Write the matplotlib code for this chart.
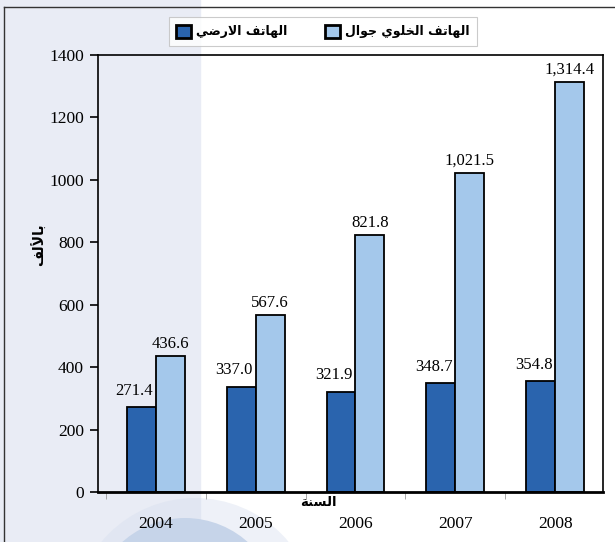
import numpy as np
import matplotlib
matplotlib.use("Agg")
import matplotlib.pyplot as plt
from matplotlib.patches import Rectangle, Circle
from matplotlib.lines import Line2D

plt.rcParams["font.family"] = ["Liberation Serif", "DejaVu Sans"]

# data
years = ["2004", "2005", "2006", "2007", "2008"]
landline = [271.4, 337.0, 321.9, 348.7, 354.8]
mobile = [436.6, 567.6, 821.8, 1021.5, 1314.4]
yticks = [0, 200, 400, 600, 800, 1000, 1200, 1400]

lbl_landline = "الهاتف الارضي"
lbl_mobile = "الهاتف الخلوي جوال"
lbl_y = "بالألف"
lbl_x = "السنة"

# matplotlib does no arabic shaping: choose the glyph forms by hand and reverse
FORMS = {
    'ا': ('\uFE8D', '\uFE8E'),
    'أ': ('\uFE83', '\uFE84'),
    'ب': ('\uFE8F', '\uFE90', '\uFE91', '\uFE92'),
    'ة': ('\uFE93', '\uFE94'),
    'ت': ('\uFE95', '\uFE96', '\uFE97', '\uFE98'),
    'ج': ('\uFE9D', '\uFE9E', '\uFE9F', '\uFEA0'),
    'خ': ('\uFEA5', '\uFEA6', '\uFEA7', '\uFEA8'),
    'ر': ('\uFEAD', '\uFEAE'),
    'س': ('\uFEB1', '\uFEB2', '\uFEB3', '\uFEB4'),
    'ض': ('\uFEBD', '\uFEBE', '\uFEBF', '\uFEC0'),
    'ف': ('\uFED1', '\uFED2', '\uFED3', '\uFED4'),
    'ل': ('\uFEDD', '\uFEDE', '\uFEDF', '\uFEE0'),
    'ن': ('\uFEE5', '\uFEE6', '\uFEE7', '\uFEE8'),
    'ه': ('\uFEE9', '\uFEEA', '\uFEEB', '\uFEEC'),
    'و': ('\uFEED', '\uFEEE'),
    'ي': ('\uFEF1', '\uFEF2', '\uFEF3', '\uFEF4'),
}
LAM_ALEF = {'ا': ('\uFEFB', '\uFEFC'), 'أ': ('\uFEF7', '\uFEF8')}


def shape(s):
    out = []
    i = 0
    prev_joins = False
    while i < len(s):
        ch = s[i]
        if ch not in FORMS:
            out.append(ch)
            prev_joins = False
            i += 1
            continue
        if ch == 'ل' and i + 1 < len(s) and s[i + 1] in LAM_ALEF:
            out.append(LAM_ALEF[s[i + 1]][1 if prev_joins else 0])
            prev_joins = False
            i += 2
            continue
        f = FORMS[ch]
        nxt = s[i + 1] if i + 1 < len(s) else ''
        next_joins = len(f) == 4 and nxt in FORMS
        if prev_joins and next_joins:
            g = f[3]
        elif prev_joins:
            g = f[1]
        elif next_joins:
            g = f[2]
        else:
            g = f[0]
        out.append(g)
        prev_joins = next_joins
        i += 1
    return ''.join(reversed(out))


dark = "#2A64AE"
light = "#A4C8EB"
W, H = 615, 542

fig = plt.figure(figsize=(6.15, 5.42), dpi=100)
fig.patch.set_facecolor("white")

# background decoration
fig.patches.append(Rectangle((0, 0), 200 / W, 1, transform=fig.transFigure,
                             color="#E9ECF5", zorder=-3))
fig.patches.append(Circle((195, H - 620), 122, transform=None,
                          color="#D5DEEE", alpha=0.4, zorder=-2, lw=0))
fig.patches.append(Circle((185, H - 612), 94, transform=None,
                          color="#C6D4E9", zorder=-1, lw=0))
fig.lines.append(Line2D([4 / W, 4 / W], [0, 1 - 7 / H], transform=fig.transFigure,
                        color="#333333", lw=1))
fig.lines.append(Line2D([4 / W, 1], [1 - 7 / H, 1 - 7 / H], transform=fig.transFigure,
                        color="#333333", lw=1))

ax = fig.add_axes([98 / W, 1 - 492 / H, (603 - 98) / W, (492 - 55) / H])
ax.patch.set_alpha(0)

x = np.arange(len(years))
bw = 0.29
b1 = ax.bar(x - bw / 2, landline, bw, color=dark, edgecolor="black", lw=1.3)
b2 = ax.bar(x + bw / 2, mobile, bw, color=light, edgecolor="black", lw=1.3)

for xi, v in zip(x, landline):
    ax.annotate(f"{v:,.1f}", (xi - bw / 2 - 0.07, v), xytext=(0, 6),
                textcoords="offset points", ha="center", va="bottom", fontsize=12)
for xi, v in zip(x, mobile):
    ax.annotate(f"{v:,.1f}", (xi + bw / 2, v), xytext=(0, 3),
                textcoords="offset points", ha="center", va="bottom", fontsize=12)

ax.set_xlim(-0.58, 4.48)
ax.set_ylim(0, 1400)
ax.set_yticks(yticks)
ax.set_xticks(x)
ax.set_xticklabels(years)
ax.set_xticks(np.arange(-0.5, 4, 1), minor=True)
ax.tick_params(axis="x", which="major", length=0, pad=17, labelsize=12.5)
ax.tick_params(axis="x", which="minor", length=5, color="#999999", direction="out")
ax.tick_params(axis="y", length=6, width=1.2, direction="out", labelsize=12.5, pad=4)
for s in ax.spines.values():
    s.set_linewidth(1.2)
ax.spines["bottom"].set_linewidth(2)

fig.text(40 / W, 1 - 245 / H, shape(lbl_y), rotation=90, ha="center", va="center",
         family="DejaVu Sans", fontweight="bold", fontsize=10)
fig.text(318 / W, 1 - 502 / H, shape(lbl_x), ha="center", va="center",
         family="DejaVu Sans", fontweight="bold", fontsize=9.5)

h1 = Rectangle((0, 0), 1, 1, facecolor=dark, edgecolor="black", lw=2)
h2 = Rectangle((0, 0), 1, 1, facecolor=light, edgecolor="black", lw=2)
leg = fig.legend([h1, h2], [shape(lbl_landline), shape(lbl_mobile)], ncol=2,
                 loc="center", bbox_to_anchor=(323 / W, 1 - 31.5 / H),
                 prop={"family": "DejaVu Sans", "weight": "bold", "size": 9},
                 frameon=True, fancybox=False, edgecolor="#BFBFBF",
                 handlelength=1.2, handleheight=1.2, handletextpad=0.4,
                 columnspacing=3.0, borderpad=0.6)
leg.get_frame().set_linewidth(0.8)

fig.savefig("out.png", dpi=100)
